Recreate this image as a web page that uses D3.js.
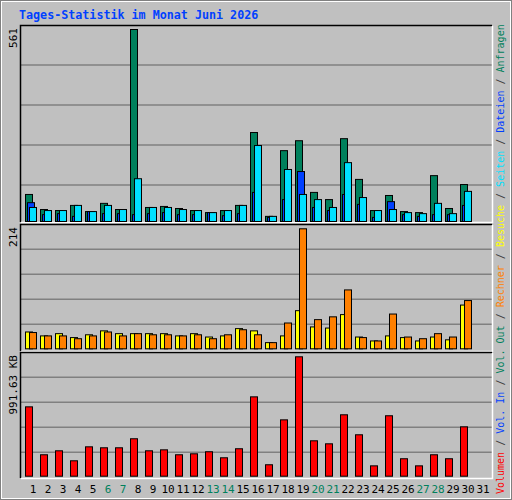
<!DOCTYPE html>
<html><head><meta charset="utf-8">
<script src="https://cdn.jsdelivr.net/npm/d3@7"></script>
<style>body{margin:0;background:#fff}</style></head>
<body><svg id="c" width="512" height="500"></svg>
<script>
const days = d3.range(1,32);
const weekendDays = [6,7,13,14,20,21,27,28];
const hits  = [79,35,32,47,29,53,35,561,41,44,38,32,26,32,47,260,15,207,236,85,64,242,123,32,76,29,26,134,38,108,0];
const files = [41,32,32,47,29,47,35,125,41,41,35,32,26,32,47,222,15,152,79,64,41,172,70,32,35,26,23,53,23,88,0];
const pages = [55,20,23,15,29,23,23,20,23,26,20,20,26,17,23,85,12,64,146,41,32,79,50,12,58,20,15,20,20,47,0];
const visits= [30,23,27,20,25,32,27,27,27,27,23,27,21,23,36,32,11,23,68,39,37,61,21,14,23,20,14,21,16,78,0];
const sites = [29,23,23,18,23,30,23,27,25,25,23,25,18,25,34,25,11,46,214,52,57,105,20,14,62,21,18,27,21,86,0];
const kbytes= [576,178,211,128,244,236,236,311,211,219,178,186,203,153,228,659,95,468,991.63,294,269,510,344,86,502,145,86,178,145,410,0];
const maxLabels = ["561","214","991.63 KB"];
const legend = [["Volumen","#ff0000"],["Vol. In","#0040ff"],["Vol. Out","#00805c"],["Rechner","#ff8000"],["Besuche","#ffff00"],["Seiten","#00e0ff"],["Dateien","#0040ff"],["Anfragen","#00805c"]];

const svg = d3.select("#c");
const font = "DejaVu Sans Mono, monospace";
svg.append("rect").attr("width",512).attr("height",500).attr("fill","#c0c0c0");
svg.append("rect").attr("x",0.5).attr("y",0.5).attr("width",511).attr("height",499).attr("fill","none").attr("stroke","#808080");
svg.append("rect").attr("x",1.5).attr("y",1.5).attr("width",509).attr("height",497).attr("fill","none").attr("stroke","#fff");
svg.append("text").attr("x",19).attr("y",19).attr("font-family",font).attr("font-weight","bold")
  .attr("font-size","11.7px").attr("fill","#0040ff").text("Tages-Statistik im Monat Juni 2026");

const x = d3.scaleBand().domain(days).range([25,490]).paddingInner(0);
const panels = [
  {top:25,bot:222,base:221,maxY:29,max:561,grid:[185,145,105,65]},
  {top:224,bot:351,base:348.3,maxY:228.3,max:214,grid:[324.3,299.3,274.3,249.3]},
  {top:352,bot:478,base:475.7,maxY:356.3,max:991.63,grid:[452.3,427.3,402.3,377.3]}
];
panels.forEach((p,i)=>{
  svg.append("rect").attr("x",20.5).attr("y",p.top+0.5).attr("width",472).attr("height",p.bot-p.top).attr("fill","#c0c0c0").attr("stroke","none");
  p.grid.forEach(g=>svg.append("line").attr("x1",21).attr("x2",492).attr("y1",g).attr("y2",g).attr("stroke","#808080").attr("stroke-width",1.5));
  svg.append("path").attr("d",`M20.5,${p.bot}V${p.top+0.5}H492`).attr("fill","none").attr("stroke","#000").attr("stroke-width",1.5);
  svg.append("path").attr("d",`M21,${p.bot+0.5}H492.5V${p.top+1}`).attr("fill","none").attr("stroke","#fff").attr("stroke-width",1.5);
  p.y = d3.scaleLinear().domain([0,p.max]).range([p.base,p.maxY]);
  const t = svg.append("text").attr("font-family",font).attr("font-size","11px").attr("fill","#000")
    .attr("transform",`translate(17,${p.top+3}) rotate(-90)`).attr("text-anchor","end").text(maxLabels[i]);
});
function bars(p,vals,off,color){
  svg.append("g").selectAll("rect").data(days.filter((d,i)=>vals[i]>0)).join("rect")
    .attr("x",d=>x(d)+off+0.5).attr("width",7)
    .attr("y",d=>p.y(vals[d-1])+0.5).attr("height",d=>p.base-p.y(vals[d-1]))
    .attr("fill",color).attr("stroke","#000").attr("stroke-width",1);
}
bars(panels[0],hits,0,"#00805c");
bars(panels[0],pages,2,"#0040ff");
bars(panels[0],files,4,"#00e0ff");
bars(panels[1],visits,0,"#ffff00");
bars(panels[1],sites,4,"#ff8000");
bars(panels[2],kbytes,0,"#ff0000");

svg.append("g").selectAll("text").data(days).join("text")
  .attr("x",d=>x(d)+8).attr("y",493).attr("text-anchor","middle")
  .attr("font-family",font).attr("font-size","11px")
  .attr("fill",d=>weekendDays.includes(d)?"#00805c":"#000").text(d=>d);

const lg = svg.append("text").attr("font-family",font).attr("font-size","10px")
  .attr("transform","translate(504,494) rotate(-90)");
legend.forEach((l,i)=>{
  if(i>0) lg.append("tspan").attr("fill","#404040").text(" / ");
  lg.append("tspan").attr("fill",l[1]).text(l[0]);
});
</script></body></html>
